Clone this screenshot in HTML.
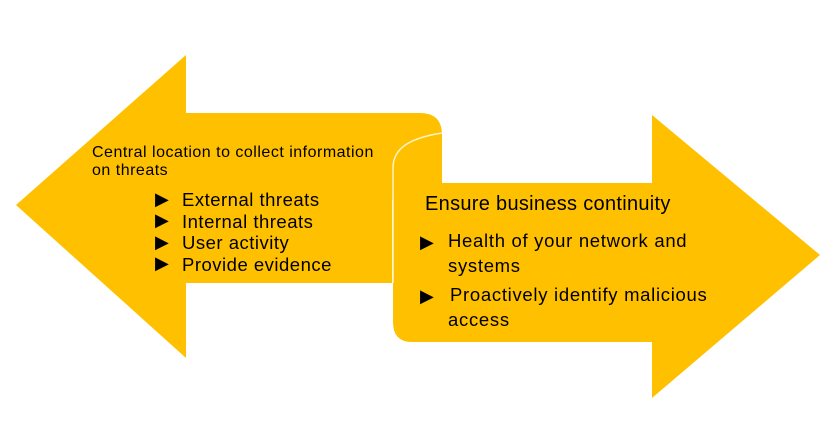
<!DOCTYPE html>
<html><head><style>
body{margin:0;background:#fff;width:836px;height:442px;overflow:hidden;position:relative;font-family:"Liberation Sans",sans-serif;color:#000}
.t{position:absolute;white-space:nowrap;line-height:1}
.b{position:absolute;font-size:18px;line-height:1}
</style></head><body>
<svg width="836" height="442" style="position:absolute;left:0;top:0">
<path d="M16 205 L186 55 L186 113 L420 113 Q442 113 442 135 L442 200 L392 200 L392 283 L186 283 L186 358 Z" fill="#FFC000"/>
<path d="M393 165 C393 148 410 138 442 133 L442 183 L652 183 L652 115 L820 255 L652 398 L652 342 L412 342 Q393 342 393 322 Z" fill="#FFC000"/>
<path d="M442 133 C410 138 393 148 393 168 L393 283" fill="none" stroke="#fff3c8" stroke-width="1.5"/>
</svg>
<div class="t" style="left:92px;top:145px;font-size:16px;letter-spacing:0.5px">Central location to collect information</div>
<div class="t" style="left:92px;top:163px;font-size:16px;letter-spacing:0.5px">on threats</div>
<div class="b" style="left:155px;top:190px">▶</div>
<div class="b" style="left:155px;top:211px">▶</div>
<div class="b" style="left:155px;top:233px">▶</div>
<div class="b" style="left:155px;top:254px">▶</div>
<div class="t" style="left:182px;top:189px;font-size:18.5px;line-height:21.5px;letter-spacing:0.5px">External threats<br>Internal threats<br>User activity<br>Provide evidence</div>
<div class="t" style="left:425px;top:194px;font-size:20px;letter-spacing:0.3px">Ensure business continuity</div>
<div class="b" style="left:420px;top:233px">▶</div>
<div class="t" style="left:448px;top:232px;font-size:18.5px;letter-spacing:0.7px">Health of your network and</div>
<div class="t" style="left:448px;top:257px;font-size:18.5px;letter-spacing:0.7px">systems</div>
<div class="b" style="left:420px;top:287px">▶</div>
<div class="t" style="left:450px;top:286px;font-size:18.5px;letter-spacing:0.7px">Proactively identify malicious</div>
<div class="t" style="left:448px;top:311px;font-size:18.5px;letter-spacing:0.7px">access</div>
</body></html>
